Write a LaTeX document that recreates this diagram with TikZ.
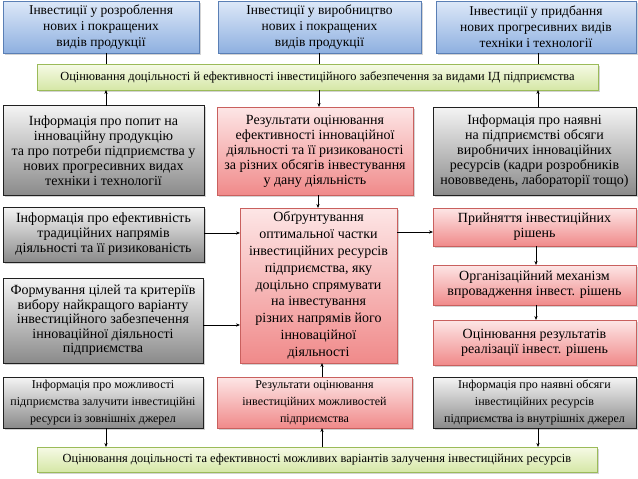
\documentclass[tikz,border=0pt]{standalone}
\usepackage{fontspec}
\setmainfont{Liberation Serif}
\usetikzlibrary{shadows,arrows.meta}
\definecolor{blueT}{HTML}{DDE8F8}
\definecolor{blueD}{HTML}{8EB0E0}
\definecolor{blueB}{HTML}{5A7FB5}
\definecolor{greyT}{HTML}{F4F4F4}
\definecolor{greyD}{HTML}{8A8A8A}
\definecolor{greyB}{HTML}{202020}
\definecolor{redT}{HTML}{FDE6E6}
\definecolor{redD}{HTML}{F08A8A}
\definecolor{redB}{HTML}{C9605E}
\definecolor{grnT}{HTML}{F6FAE6}
\definecolor{grnD}{HTML}{D5E7A6}
\definecolor{grnB}{HTML}{9BBB59}
\tikzset{
  box/.style={draw, line width=0.7pt, align=center, inner sep=1pt, outer sep=0pt,
    drop shadow={shadow xshift=1.5pt, shadow yshift=-1.5pt, opacity=0.35}},
  sz/.style 2 args={minimum width=#1pt, minimum height=#2pt},
  bluebox/.style={box, draw=blueB, top color=blueT, bottom color=blueD,
    font=\fontsize{13.5}{16}\selectfont},
  greybox/.style={box, draw=greyB, top color=greyT, bottom color=greyD,
    font=\fontsize{14}{15}\selectfont},
  redbox/.style={box, draw=redB, top color=redT, bottom color=redD,
    font=\fontsize{14}{15}\selectfont},
  grnbar/.style={box, draw=grnB, top color=grnT, bottom color=grnD,
    font=\fontsize{12.4}{14}\selectfont},
  smallfont/.style={font=\fontsize{12}{17}\selectfont},
  conn/.style={line width=0.6pt, draw=black},
  arr/.style={conn, -{Stealth[length=4pt,width=3.2pt]}}
}
\begin{document}
\begin{tikzpicture}[x=1pt,y=-1pt]
\useasboundingbox (0,0) rectangle (638,479);
% top row
\node[bluebox, sz={196}{52}] (b1) at (101,27) {Інвестиції у розроблення\\нових і покращених\\видів продукції};
\node[bluebox, sz={203}{52}] (b2) at (319.5,27) {Інвестиції у виробництво\\нових і покращених\\видів продукції};
\node[bluebox, sz={200}{52}] (b3) at (536,27) {Інвестиції у придбання\\нових прогресивних видів\\техніки і технології};
\node[grnbar, sz={561}{26}] (g1) at (317.5,77) {Оцінювання доцільності й ефективності інвестиційного забезпечення за видами ІД підприємства};
% row 2
\node[greybox, sz={201}{90}] (l1) at (103.5,150.5) {Інформація про попит на\\інноваційну продукцію\\та про потреби підприємства у\\нових прогресивних видах\\техніки і технології};
\node[redbox, sz={196}{88}] (r1) at (315,151) {Результати оцінювання\\ефективності інноваційної\\діяльності та її ризикованості\\за різних обсягів інвестування\\у дану діяльність};
\node[greybox, sz={203}{88}] (rr1) at (534.5,151) {Інформація про наявні\\на підприємстві обсяги\\виробничих інноваційних\\ресурсів (кадри розробників\\нововведень, лабораторії тощо)};
% row 3
\node[greybox, sz={201}{55}] (l2) at (103.5,234.5) {Інформація про ефективність\\традиційних напрямів\\діяльності та її ризикованість};
\node[redbox, sz={157}{155}, font=\fontsize{14}{16.8}\selectfont] (c) at (318.5,285.5) {Обґрунтування\\оптимальної частки\\інвестиційних ресурсів\\підприємства, яку\\доцільно спрямувати\\на інвестування\\різних напрямів його\\інноваційної\\діяльності};
\node[redbox, sz={203}{38}] (rr2) at (534.5,227) {Прийняття інвестиційних\\рішень};
% row 4
\node[greybox, sz={200}{85}, font=\fontsize{14}{14.5}\selectfont] (l3) at (103,320.5) {Формування цілей та критеріїв\\вибору найкращого варіанту\\інвестиційного забезпечення\\інноваційної діяльності\\підприємства};
\node[redbox, sz={203}{40}] (rr3) at (534.5,285) {Організаційний механізм\\впровадження інвест. рішень};
\node[redbox, sz={203}{45}] (rr4) at (534.5,342.5) {Оцінювання результатів\\реалізації інвест. рішень};
% bottom row
\node[greybox, smallfont, sz={200}{51}] (l4) at (103,402.5) {Інформація про можливості\\підприємства залучити інвестиційні\\ресурси із зовнішніх джерел};
\node[redbox, smallfont, sz={195}{51}] (m4) at (314.5,402.5) {Результати оцінювання\\інвестиційних можливостей\\підприємства};
\node[greybox, smallfont, sz={203}{51}] (rr5) at (534.5,402.5) {Інформація про наявні обсяги\\інвестиційних ресурсів\\підприємства із внутрішніх джерел};
\node[grnbar, sz={560}{25}] (g2) at (317,459.5) {Оцінювання доцільності та ефективності можливих варіантів залучення інвестиційних ресурсів};
% connectors top
\draw[conn] (b1.south -| 106,0) -- (g1.north -| 106,0);
\draw[conn] (b2.south -| 319,0) -- (g1.north -| 319,0);
\draw[conn] (b3.south -| 538,0) -- (g1.north -| 538,0);
\draw[arr] (l1.north -| 106,0) -- (g1.south -| 106,0);
\draw[arr] (g1.south -| 319,0) -- (r1.north -| 319,0);
\draw[arr] (rr1.north -| 538,0) -- (g1.south -| 538,0);
% center
\draw[arr] (r1.south -| 318,0) -- (c.north -| 318,0);
\draw[arr] (l2.east |- 0,233) -- (c.west |- 0,233);
\draw[arr] (l3.east |- 0,325) -- (c.west |- 0,325);
\draw[arr] (c.east |- 0,232) -- (rr2.west |- 0,232);
\draw[arr] (rr2.south -| 536,0) -- (rr3.north -| 536,0);
\draw[arr] (rr3.south -| 536,0) -- (rr4.north -| 536,0);
\draw[arr] (m4.north -| 322,0) -- (c.south -| 322,0);
% bottom
\draw[arr] (l4.south -| 106,0) -- (g2.north -| 106,0);
\draw[arr] (g2.north -| 322,0) -- (m4.south -| 322,0);
\draw[arr] (rr5.south -| 538,0) -- (g2.north -| 538,0);
\end{tikzpicture}
\end{document}
